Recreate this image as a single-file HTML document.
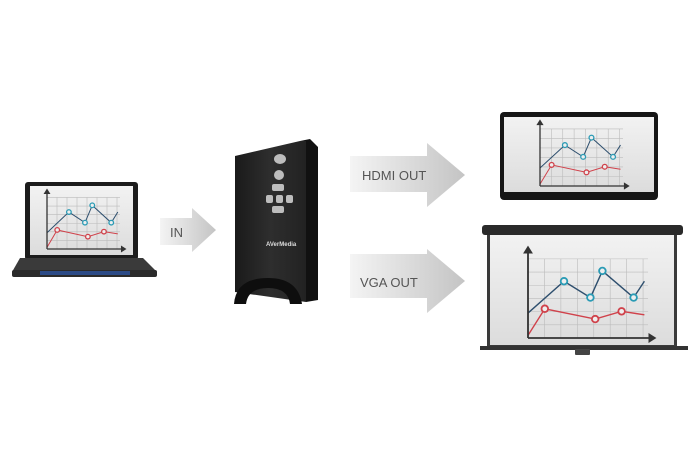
<!DOCTYPE html>
<html><head><meta charset="utf-8"><style>
html,body{margin:0;padding:0;background:#fff;}
svg{display:block}
text{font-family:"Liberation Sans",sans-serif;fill:#555;}
</style></head><body>
<svg id="s" width="700" height="460" viewBox="0 0 700 460" xmlns="http://www.w3.org/2000/svg">
<defs>
<linearGradient id="arr" x1="0" x2="1" y1="0" y2="0"><stop offset="0" stop-color="#f4f4f4"/><stop offset="1" stop-color="#c4c4c4"/></linearGradient>
<linearGradient id="scr" x1="0" x2="0" y1="0" y2="1"><stop offset="0" stop-color="#f2f2f2"/><stop offset="1" stop-color="#dcdcdc"/></linearGradient>
<linearGradient id="dev" x1="0" x2="1" y1="0" y2="0"><stop offset="0" stop-color="#1a1a1a"/><stop offset=".5" stop-color="#2e2e2e"/><stop offset="1" stop-color="#222"/></linearGradient>
</defs>
<!-- arrows -->
<polygon points="160,218 192,218 192,208 216,230 192,252 192,245 160,245" fill="url(#arr)"/>
<text x="170" y="237" font-size="13">IN</text>
<polygon points="350,156 427,156 427,143 465,175 427,207 427,192 350,192" fill="url(#arr)"/>
<text x="362" y="180" font-size="13">HDMI OUT</text>
<polygon points="350,254 427,254 427,249 465,281 427,313 427,298 350,298" fill="url(#arr)"/>
<text x="360" y="287" font-size="13">VGA OUT</text>
<!-- laptop -->
<rect x="25" y="182" width="113" height="78" rx="3" fill="#1c1c1c"/>
<rect x="30" y="186" width="103" height="69" fill="url(#scr)"/>
<polygon points="20,258 143,258 157,272 12,272" fill="#3a3a3a"/>
<rect x="12" y="270" width="145" height="7" rx="2" fill="#2a2a2a"/>
<rect x="40" y="271" width="90" height="4" fill="#2b4a86"/>
<!-- TV -->
<rect x="500" y="112" width="158" height="88" rx="4" fill="#161616"/>
<rect x="504" y="117" width="150" height="75" fill="url(#scr)"/>
<!-- projector screen -->
<rect x="482" y="225" width="201" height="10" rx="3" fill="#2a2a2a"/>
<rect x="487" y="235" width="190" height="112" fill="#3a3a3a"/>
<rect x="490" y="235" width="184" height="110" fill="url(#scr)"/>
<rect x="480" y="346" width="208" height="4" fill="#333"/>
<rect x="575" y="349" width="15" height="6" rx="1" fill="#444"/>
<!-- device -->
<polygon points="235,156 300,141 306,141 306,302 235,292" fill="url(#dev)"/>
<polygon points="300,141 310,139 318,147 318,300 306,302 306,141" fill="#111"/>
<g fill="#bdbdbd">
<ellipse cx="280" cy="159" rx="6" ry="5"/><ellipse cx="279" cy="175" rx="5" ry="5"/>
<rect x="272" y="184" width="12" height="7" rx="2"/>
<rect x="266" y="195" width="7" height="8" rx="2"/><rect x="276" y="195" width="7" height="8" rx="2"/><rect x="286" y="195" width="7" height="8" rx="2"/>
<rect x="272" y="206" width="12" height="7" rx="2"/>
</g>
<text x="266" y="246" font-size="6" font-weight="bold" style="fill:#ddd">AVerMedia</text>
<path d="M234,304 Q236,278 268,278 Q298,278 302,304 L290,304 Q288,288 268,288 Q248,288 246,304 Z" fill="#0e0e0e"/>
<g id="charts"></g>
</svg>
<script>
function chart(ox,oy,W,H,r,sw){
 var g=document.getElementById('charts'),ns="http://www.w3.org/2000/svg",o='';
 for(var i=1;i<=7;i++){var x=ox+W*i/7.3;o+='<line x1="'+x+'" y1="'+(oy-H*0.92)+'" x2="'+x+'" y2="'+oy+'" stroke="#bbb" stroke-width="0.6"/>';}
 for(var j=1;j<=6;j++){var y=oy-H*0.92*j/6;o+='<line x1="'+ox+'" y1="'+y+'" x2="'+(ox+W)+'" y2="'+y+'" stroke="#bbb" stroke-width="0.6"/>';}
 function P(a){return a.map(function(p){return (ox+p[0]*W)+','+(oy-p[1]*H)}).join(' ');}
 var b=[[0,.29],[.30,.66],[.52,.47],[.62,.78],[.88,.47],[.97,.66]],rd=[[0,.03],[.14,.34],[.56,.22],[.78,.31],[.97,.27]];
 o+='<polyline points="'+P(b)+'" fill="none" stroke="#2e4f6e" stroke-width="'+sw+'"/>';
 o+='<polyline points="'+P(rd)+'" fill="none" stroke="#d0424b" stroke-width="'+sw+'"/>';
 [1,2,3,4].forEach(function(k){o+='<circle cx="'+(ox+b[k][0]*W)+'" cy="'+(oy-b[k][1]*H)+'" r="'+r+'" fill="#eee" stroke="#2a9bb5" stroke-width="'+sw*1.3+'"/>';});
 [1,2,3].forEach(function(k){o+='<circle cx="'+(ox+rd[k][0]*W)+'" cy="'+(oy-rd[k][1]*H)+'" r="'+r+'" fill="#eee" stroke="#d0424b" stroke-width="'+sw*1.3+'"/>';});
 o+='<line x1="'+ox+'" y1="'+oy+'" x2="'+ox+'" y2="'+(oy-H)+'" stroke="#333" stroke-width="'+sw*1.3+'"/>';
 o+='<line x1="'+ox+'" y1="'+oy+'" x2="'+(ox+W+2)+'" y2="'+oy+'" stroke="#333" stroke-width="'+sw*1.3+'"/>';
 var a=r*1.5;
 o+='<polygon points="'+ox+','+(oy-H-a*1.3)+' '+(ox-a)+','+(oy-H+a*0.3)+' '+(ox+a)+','+(oy-H+a*0.3)+'" fill="#333"/>';
 o+='<polygon points="'+(ox+W+2+a*1.3)+','+oy+' '+(ox+W+2-a*0.3)+','+(oy-a)+' '+(ox+W+2-a*0.3)+','+(oy+a)+'" fill="#333"/>';
 g.insertAdjacentHTML('beforeend',o);
}
chart(47,249,73,56,2.3,1);
chart(540,186,83,62,2.4,1);
chart(528,338,120,86,3.3,1.4);
</script>
</body></html>
